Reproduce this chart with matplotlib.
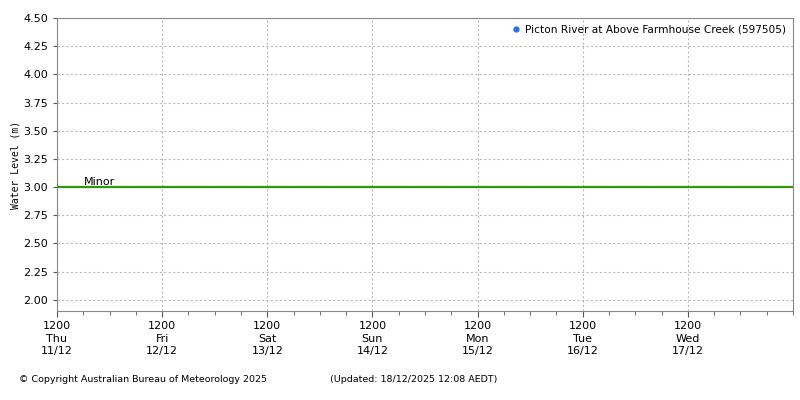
import numpy as np
import matplotlib.pyplot as plt
import matplotlib.dates as mdates
from datetime import datetime, timedelta

# Data (no observations shown in the period)
station = "Picton River at Above Farmhouse Creek (597505)"
obs_times = []
obs_levels = []
minor_level = 3.00
minor_label = "Minor"
start = datetime(2025, 12, 11, 12)
end = datetime(2025, 12, 18, 12)
y_ticks = [2.00, 2.25, 2.50, 2.75, 3.00, 3.25, 3.50, 3.75, 4.00, 4.25, 4.50]


def main():
    fig = plt.figure(figsize=(8, 4), dpi=100)
    ax = fig.add_axes([57 / 800, 89 / 400, 736 / 800, 293 / 400])

    ax.plot(obs_times, obs_levels, 'o', color='#1f77e0', markersize=3.5,
            label=station)
    ax.axhline(minor_level, color='#2e9a0c', lw=1.6, zorder=3)
    ax.text(start + timedelta(hours=6.2), minor_level + 0.004, minor_label,
            fontsize=8, va='bottom', ha='left')

    ax.set_xlim(start, end)
    ax.set_ylim(1.9, 4.5)
    ax.set_yticks(y_ticks)
    ax.set_yticklabels([f"{v:.2f}" for v in y_ticks])

    major = [start + timedelta(days=i) for i in range(7)]
    ax.set_xticks(major)
    ax.set_xticklabels([d.strftime("%H%M\n%a\n%d/%m") for d in major],
                       linespacing=1.3)
    ax.xaxis.set_minor_locator(mdates.HourLocator(byhour=[0, 6, 12, 18]))

    ax.grid(True, which='major', color='#bbbbbb', linestyle=(0, (2, 2)), lw=0.8)
    for s in ax.spines.values():
        s.set_color('#888888')
    ax.tick_params(axis='both', which='both', colors='#555555', labelcolor='black',
                   labelsize=8, direction='out')
    ax.tick_params(axis='x', which='major', length=4)
    ax.tick_params(axis='x', which='minor', length=3)
    ax.tick_params(axis='y', length=3)

    ax.set_ylabel("Water Level (m)", fontsize=7, family='DejaVu Sans Mono',
                  labelpad=2)

    ax.legend(loc='upper right', fontsize=7.6, frameon=False, handletextpad=0.4,
              borderaxespad=0.25, handlelength=1.0)

    fig.text(19 / 800, 1 - 380 / 400, "\u00a9 Copyright Australian Bureau of Meteorology 2025",
             fontsize=6.8, va='center')
    fig.text(330 / 800, 1 - 380 / 400, "(Updated: 18/12/2025 12:08 AEDT)",
             fontsize=6.8, va='center')

    fig.savefig("out.png", dpi=100)


if __name__ == "__main__":
    main()
